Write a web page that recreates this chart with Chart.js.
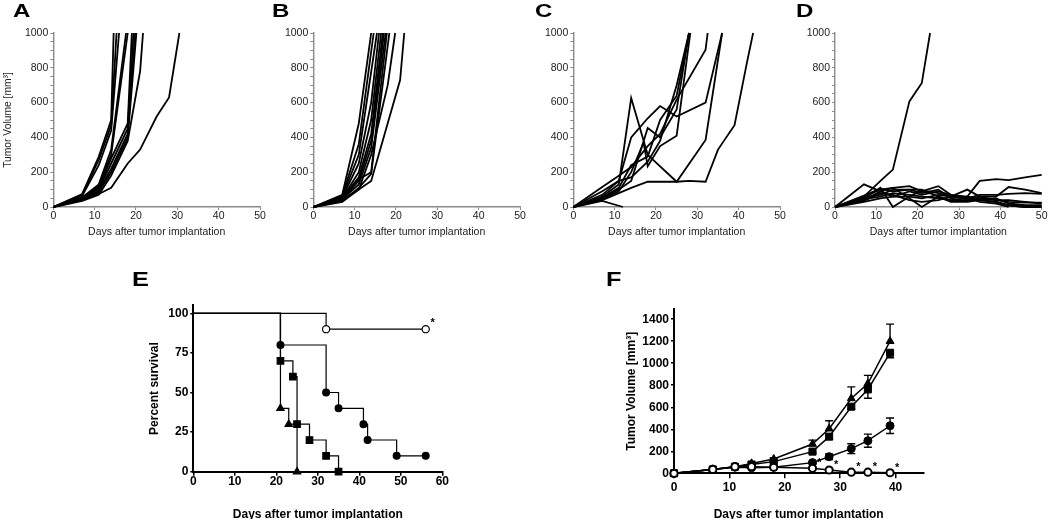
<!DOCTYPE html>
<html><head><meta charset="utf-8">
<script src="https://cdn.jsdelivr.net/npm/chart.js@4.4.1/dist/chart.umd.min.js"></script>
<style>
html,body{margin:0;padding:0;background:#fff;}
#wrap{position:relative;width:1050px;height:519px;overflow:hidden;background:#fff;}
canvas{position:absolute;left:0;top:0;}
.lab{position:absolute;font-family:"Liberation Sans",Arial,sans-serif;font-weight:bold;line-height:1;color:#000;transform:scaleX(1.3);transform-origin:0 0;}
</style></head><body>
<div id="wrap">
<canvas id="cA" width="1050" height="519"></canvas>
<canvas id="cB" width="1050" height="519"></canvas>
<canvas id="cC" width="1050" height="519"></canvas>
<canvas id="cD" width="1050" height="519"></canvas>
<canvas id="cE" width="1050" height="519"></canvas>
<canvas id="cF" width="1050" height="519"></canvas>
<div class="lab" style="left:13px;top:2px;font-size:18.5px">A</div>
<div class="lab" style="left:272px;top:2px;font-size:18.5px">B</div>
<div class="lab" style="left:535px;top:2px;font-size:18.5px">C</div>
<div class="lab" style="left:796px;top:2px;font-size:18.5px">D</div>
<div class="lab" style="left:132px;top:270px;font-size:19.5px">E</div>
<div class="lab" style="left:606px;top:270px;font-size:19.5px">F</div>
</div>
<script>
const FONT = '"Liberation Sans", Arial, Helvetica, sans-serif';

// ---------------- DATA ----------------
// Panels A-D: individual tumor growth curves (days, volume mm3)
const xTicksAD = [0, 10, 20, 30, 40, 50];
const yTicksAD = [0, 200, 400, 600, 800, 1000];
const yMinorStepAD = 50;

const daysA = [
  [0,7,11,14,14.6], [0,7,11,14,15.3], [0,7,11,14,15.9], [0,7,11,14,17.6], [0,7,11,14,18],
  [0,7,11,14,18,19], [0,7,11,14,18,19.4], [0,7,11,14,18,19.8], [0,7,11,14,18,20.1],
  [0,7,11,14,18,21,21.7], [0,7,11,14,18,21,25,28,30.5]
];
const volA = [
  [0,75,290,500,1000], [0,70,270,470,1000], [0,65,240,440,1000], [0,55,130,330,1000], [0,50,120,300,1000],
  [0,50,110,280,480,1000], [0,45,100,250,450,1000], [0,40,90,220,420,1000], [0,45,85,200,400,1000],
  [0,35,70,180,380,780,1000], [0,45,75,110,250,330,520,630,1000]
];

const daysB = [
  [0,7,11,14], [0,7,11,14.6], [0,7,11,15.4], [0,7,11,14,15.9], [0,7,11,14,16.4], [0,7,11,14,16.8],
  [0,7,11,14,17.1], [0,7,11,14,17.5], [0,7,11,14,17.8], [0,7,11,14,18.4], [0,7,11,14,18,19.8], [0,7,11,14,21,22]
];
const volB = [
  [0,70,480,1000], [0,65,360,1000], [0,60,300,1000], [0,55,250,600,1000], [0,50,200,500,1000], [0,50,170,420,1000],
  [0,45,150,380,1000], [0,45,130,340,1000], [0,40,160,200,1000], [0,35,110,190,1000], [0,40,100,300,700,1000], [0,30,100,150,730,1000]
];

const daysC = [
  [0,7,11,14,18,25,32,36], [0,7,11,14,18,25,28,32,35,39,42,43.5], [0,7,11,14,18,21,25,32,36],
  [0,7,11,14,18,21,25,32,32.5], [0,7,11,14,18,21,25,28], [0,7,11,14,17,18,21,25,28.3],
  [0,7,11,14,18,21,25,28], [0,7,12], [0,7,11,14,18,21,25,28]
];
const volC = [
  [0,60,130,626,300,145,385,1000], [0,40,80,110,145,145,150,145,330,470,830,1000], [0,70,150,400,510,580,520,600,1000],
  [0,115,180,230,350,420,617,904,1000], [0,50,100,150,454,400,560,1000], [0,45,90,200,370,234,350,410,1000],
  [0,55,110,240,290,500,640,1000], [0,35,0], [0,90,150,170,260,380,700,1000]
];

const daysD = [
  [0,7,11,14,18,21,23],
  [0,7,11,14,18,21,25,28,32,35,39,42,46],
  [0,7,11,14,18,21,25,28,32,35,39,42,46,50],
  [0,7,11,14,18,21,25,28,32,35,39,42,46,50],
  [0,7,11,14,18,21,25,28,32,35,39,42,46,50],
  [0,7,11,14,18,21,25,28,32,35,39,42,46,50],
  [0,7,11,14,18,21,25,28,32,35,39,42,46,50],
  [0,7,11,14,18,21,25,28,32,35,39,42],
  [0,7,11,14,18,21,25,28,32,35,39,42,46,50],
  [0,7,11,14,18,21,25,28,32,35,39,42,46,50]
];
const volD = [
  [0,60,150,215,607,713,1000],
  [0,130,90,60,60,50,70,60,50,40,30,10,0],
  [0,60,100,110,120,90,120,70,60,150,160,155,170,184],
  [0,50,110,0,60,95,80,60,100,60,60,115,100,80],
  [0,40,90,110,50,0,60,40,50,70,70,75,80,75],
  [0,55,70,100,100,80,100,50,60,50,40,30,25,25],
  [0,45,60,80,70,60,50,40,35,45,50,20,10,10],
  [0,35,80,70,40,30,40,60,55,30,20,0],
  [0,30,50,60,90,70,90,70,40,60,40,40,30,20],
  [0,65,105,90,100,100,60,30,30,40,30,10,0,0]
];

// Panel E: Kaplan-Meier survival (%)
const xTicksE = [0, 10, 20, 30, 40, 50, 60];
const yTicksE = [0, 25, 50, 75, 100];
const survDaysOpen = [0, 32, 56];
const survOpen = [100, 90, 90];
const survDaysFilled = [0, 21, 32, 35, 41, 42, 49, 56];
const survFilled = [100, 80, 50, 40, 30, 20, 10, 10];
const survDaysSquare = [0, 21, 24, 25, 28, 32, 35];
const survSquare = [100, 70, 60, 30, 20, 10, 0];
const survDaysTri = [0, 21, 23, 25];
const survTri = [100, 40, 30, 0];

// Panel F: mean tumor volume +/- SEM
const xTicksF = [0, 10, 20, 30, 40];
const yTicksF = [0, 200, 400, 600, 800, 1000, 1200, 1400];
const daysF = [0, 7, 11, 14, 18, 25, 28, 32, 35, 39];
const volTri = [0, 35, 60, 90, 130, 266, 405, 680, 815, 1200];
const semTri = [0, 3, 5, 8, 12, 35, 72, 105, 75, 155];
const volSquare = [0, 35, 60, 80, 106, 197, 333, 605, 762, 1095];
const semSquare = [0, 3, 5, 8, 10, 15, 25, 20, 80, 45];
const volCircle = [0, 35, 55, 50, 55, 97, 151, 224, 296, 432];
const semCircle = [0, 3, 4, 5, 8, 10, 25, 45, 60, 70];
const volOpen = [0, 35, 60, 60, 55, 45, 30, 10, 10, 5];
const semOpen = [0, 2, 3, 3, 4, 5, 5, 3, 3, 3];
const starIdxF = [5, 6, 7, 8, 9];

// ---------------- HELPERS ----------------
function fixedTicks(arr){ return s => { s.ticks = arr.map(v => ({value: v})); }; }
function pad(area, W, H){
  return {left: area.l - W, top: area.t, right: 1050 - area.r, bottom: 519 - area.b - H};
}
const plain = v => String(v);
const baseOpts = {
  responsive: false, animation: false, events: [],
  plugins: {legend: {display: false}, tooltip: {enabled: false}}
};

function growthChart(id, days, vols, area, yTitle){
  const W = yTitle ? 53.3 : 40, H = 31;
  const minor = [];
  for (let v = 0; v <= 1000; v += yMinorStepAD) minor.push(v);
  return new Chart(document.getElementById(id), {
    type: 'line',
    data: {datasets: days.map((d, i) => ({
      data: d.map((x, j) => ({x: x, y: vols[i][j]})),
      borderColor: '#000', borderWidth: 1.8, pointRadius: 0, tension: 0, fill: false, clip: false
    }))},
    options: Object.assign({}, baseOpts, {
      layout: {padding: pad(area, W, H)},
      scales: {
        x: {type: 'linear', min: 0, max: 50,
          afterBuildTicks: fixedTicks(xTicksAD), afterFit: s => { s.height = H; },
          grid: {drawOnChartArea: false, tickLength: 3, color: '#8a8a8a', lineWidth: 1},
          border: {color: '#8a8a8a', width: 1.4},
          ticks: {color: '#222', font: {family: FONT, size: 10.5}, padding: 0, maxRotation: 0, autoSkip: false, callback: plain},
          title: {display: true, text: 'Days after tumor implantation', color: '#222',
                  font: {family: FONT, size: 10.5}, padding: 0}},
        y: {type: 'linear', min: 0, max: 1000,
          afterBuildTicks: fixedTicks(minor), afterFit: s => { s.width = W; },
          grid: {drawOnChartArea: false, tickLength: 3, color: '#8a8a8a', lineWidth: 1},
          border: {color: '#8a8a8a', width: 1.4},
          ticks: {color: '#222', font: {family: FONT, size: 10.5}, padding: 2, autoSkip: false,
                  callback: v => yTicksAD.includes(v) ? String(v) : ''},
          title: {display: !!yTitle, text: yTitle || '', color: '#222',
                  font: {family: FONT, size: 10.3}, padding: {top: 2, bottom: 0}}}
      }
    })
  });
}

growthChart('cA', daysA, volA, {l: 53.3, r: 260, t: 33, b: 207}, 'Tumor Volume [mm\u00B3]');
growthChart('cB', daysB, volB, {l: 313.3, r: 520, t: 33, b: 207}, null);
growthChart('cC', daysC, volC, {l: 573.3, r: 780, t: 33, b: 207}, null);
growthChart('cD', daysD, volD, {l: 835, r: 1041.7, t: 33, b: 207}, null);

function starPlugin(dsIndex, idxs, dx, dy){
  return {
    id: 'stars' + dsIndex,
    afterDatasetsDraw(chart){
      const meta = chart.getDatasetMeta(dsIndex);
      const ctx = chart.ctx;
      ctx.save();
      ctx.fillStyle = '#000';
      ctx.font = 'bold 11px ' + FONT;
      ctx.textAlign = 'center';
      ctx.textBaseline = 'middle';
      idxs.forEach(i => {
        const p = meta.data[i];
        ctx.fillText('*', p.x + dx, p.y + dy);
      });
      ctx.restore();
    }
  };
}

function boldAxis(min, max, ticksArr, fitProp, fitVal, tickLen, padd, titleText, titleFont, titlePad){
  return {
    type: 'linear', min: min, max: max,
    afterBuildTicks: fixedTicks(ticksArr),
    afterFit: s => { s[fitProp] = fitVal; },
    grid: {drawOnChartArea: false, tickLength: tickLen, color: '#000', lineWidth: 1.5},
    border: {color: '#000', width: 2},
    ticks: {color: '#000', font: {family: FONT, size: 12, weight: 'bold', lineHeight: 1},
            padding: padd, maxRotation: 0, autoSkip: false, callback: plain},
    title: {display: true, text: titleText, color: '#000', font: titleFont, padding: titlePad}
  };
}

// ---- Panel E ----
(function(){
  const area = {l: 193.3, r: 442.3, t: 305.4, b: 471.7};
  const W = 50, H = 519 - area.b;
  function ds(days, vals, style, open, r){
    return {
      data: days.map((x, j) => ({x: x, y: vals[j]})),
      stepped: 'before', borderColor: '#000', borderWidth: 1.2, fill: false, clip: false,
      pointStyle: style, pointRadius: days.map((d, j) => j === 0 ? 0 : r),
      pointBackgroundColor: open ? '#fff' : '#000', pointBorderColor: '#000', pointBorderWidth: 1.2
    };
  }
  new Chart(document.getElementById('cE'), {
    type: 'line',
    data: {datasets: [
      ds(survDaysOpen, survOpen, 'circle', true, 3.6),
      ds(survDaysFilled, survFilled, 'circle', false, 3.4),
      ds(survDaysSquare, survSquare, 'rect', false, 4.6),
      ds(survDaysTri, survTri, 'triangle', false, 4.2)
    ]},
    options: Object.assign({}, baseOpts, {
      layout: {padding: pad(area, W, H)},
      scales: {
        x: boldAxis(0, 60, xTicksE, 'height', H, 4, 0, 'Days after tumor implantation',
                    {family: FONT, size: 12, weight: 'bold', lineHeight: 0.8}, 0),
        y: boldAxis(0, 105, yTicksE, 'width', W, 3, 2, 'Percent survival',
                    {family: FONT, size: 12, weight: 'bold'}, {top: 4.5, bottom: 0})
      }
    }),
    plugins: [starPlugin(0, [2], 7, -6)]
  });
})();

// ---- Panel F ----
(function(){
  const area = {l: 674, r: 923.3, t: 309.3, b: 473.3};
  const W = 50, H = 519 - area.b;
  function ds(vals, sem, dir, style, open, r){
    return {
      data: daysF.map((x, j) => ({x: x, y: vals[j]})),
      errors: sem, errDir: dir,
      borderColor: '#000', borderWidth: 1.5, fill: false, clip: false, tension: 0,
      pointStyle: style, pointRadius: r,
      pointBackgroundColor: open ? '#fff' : '#000', pointBorderColor: '#000', pointBorderWidth: open ? 2 : 1
    };
  }
  const errPlugin = {
    id: 'errbars',
    beforeDatasetsDraw(chart){
      const ctx = chart.ctx, ys = chart.scales.y;
      ctx.save();
      ctx.strokeStyle = '#000';
      ctx.lineWidth = 1.4;
      chart.data.datasets.forEach((d, di) => {
        const meta = chart.getDatasetMeta(di);
        d.data.forEach((pt, i) => {
          const e = d.errors[i];
          if (!e) return;
          const x = meta.data[i].x;
          const yc = ys.getPixelForValue(pt.y);
          const yt = ys.getPixelForValue(pt.y + e);
          const yb = ys.getPixelForValue(Math.max(0, pt.y - e));
          const top = d.errDir === 'down' ? yc : yt;
          const bot = d.errDir === 'up' ? yc : yb;
          ctx.beginPath();
          ctx.moveTo(x, top); ctx.lineTo(x, bot);
          if (d.errDir !== 'down') { ctx.moveTo(x - 4, yt); ctx.lineTo(x + 4, yt); }
          if (d.errDir !== 'up') { ctx.moveTo(x - 4, yb); ctx.lineTo(x + 4, yb); }
          ctx.stroke();
        });
      });
      ctx.restore();
    }
  };
  new Chart(document.getElementById('cF'), {
    type: 'line',
    data: {datasets: [
      ds(volOpen, semOpen, 'both', 'circle', true, 3.6),
      ds(volCircle, semCircle, 'both', 'circle', false, 4),
      ds(volSquare, semSquare, 'down', 'rect', false, 5),
      ds(volTri, semTri, 'up', 'triangle', false, 4.6)
    ]},
    options: Object.assign({}, baseOpts, {
      layout: {padding: pad(area, W, H)},
      scales: {
        x: boldAxis(0, 45, xTicksF, 'height', H, 5, 3, 'Days after tumor implantation',
                    {family: FONT, size: 12, weight: 'bold', lineHeight: 0.8}, 0),
        y: boldAxis(0, 1490, yTicksF, 'width', W, 3, 2, 'Tumor Volume [mm\u00B3]',
                    {family: FONT, size: 12, weight: 'bold'}, {top: 0.5, bottom: 0})
      }
    }),
    plugins: [errPlugin, starPlugin(0, starIdxF, 7, -5)]
  });
})();
</script>
</body></html>
